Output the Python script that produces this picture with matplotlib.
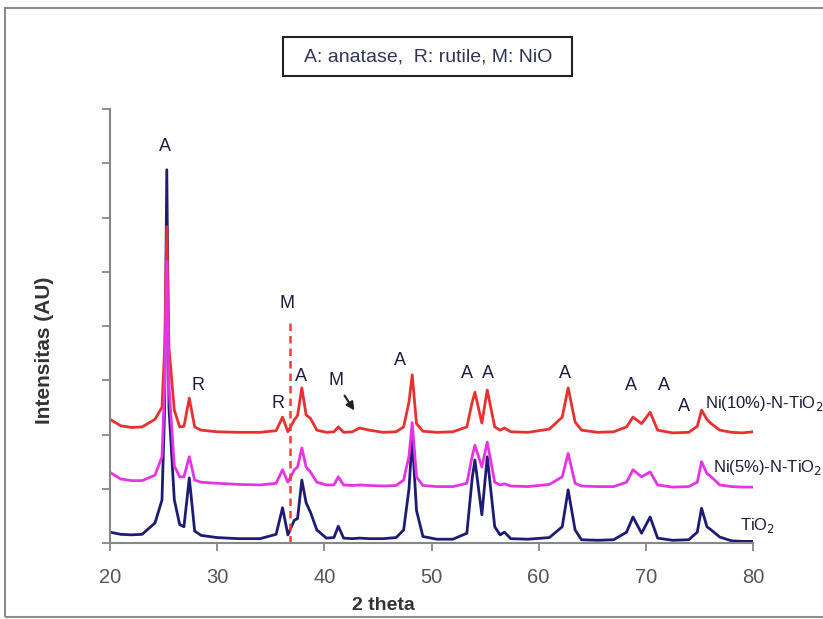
#!/usr/bin/env python3
"""XRD patterns of TiO2, Ni(5%)-N-TiO2 and Ni(10%)-N-TiO2 (stacked, arbitrary units)."""
import matplotlib
matplotlib.use("Agg")
import matplotlib.pyplot as plt
from matplotlib.patches import Rectangle

# ---- data (2 theta in degrees, intensity in AU, already offset) ----
two_theta = [20.0, 21.0, 22.0, 23.0, 24.2, 24.85, 25.1, 25.3, 25.5, 26.0,
             26.5, 26.9, 27.4, 27.9, 28.5, 30.0, 32.0, 34.0, 35.5, 36.1,
             36.6, 37.2, 37.5, 37.9, 38.3, 38.7, 39.3, 40.2, 40.9, 41.3,
             41.8, 42.6, 43.3, 44.2, 45.5, 46.7, 47.4, 47.9, 48.2, 48.6,
             49.2, 50.5, 52.0, 53.3, 53.8, 54.05, 54.7, 55.2, 55.9, 56.4,
             56.8, 57.4, 59.0, 61.0, 62.2, 62.75, 63.4, 64.0, 65.5, 67.0,
             68.2, 68.8, 69.6, 70.4, 71.1, 72.5, 74.0, 74.8, 75.2, 75.7,
             76.1, 76.9, 78.0, 79.0, 80.0]
tio2 = [0.20, 0.16, 0.15, 0.16, 0.37, 0.79, 2.50, 6.88, 2.50, 0.80,
        0.34, 0.30, 1.20, 0.22, 0.14, 0.10, 0.08, 0.08, 0.16, 0.65,
        0.15, 0.42, 0.45, 1.16, 0.74, 0.57, 0.24, 0.09, 0.10, 0.31,
        0.09, 0.08, 0.09, 0.08, 0.08, 0.10, 0.24, 1.00, 1.95, 0.60,
        0.12, 0.07, 0.07, 0.18, 1.20, 1.53, 0.52, 1.59, 0.30, 0.15,
        0.20, 0.08, 0.07, 0.10, 0.30, 0.98, 0.24, 0.06, 0.05, 0.06,
        0.20, 0.48, 0.18, 0.48, 0.09, 0.05, 0.06, 0.20, 0.64, 0.30,
        0.24, 0.11, 0.04, 0.03, 0.03]
ni5 = [1.30, 1.18, 1.15, 1.15, 1.25, 1.59, 2.90, 5.19, 2.90, 1.42,
       1.22, 1.22, 1.59, 1.16, 1.12, 1.10, 1.08, 1.07, 1.10, 1.35,
       1.12, 1.35, 1.40, 1.75, 1.40, 1.31, 1.12, 1.07, 1.07, 1.22,
       1.07, 1.06, 1.07, 1.06, 1.05, 1.06, 1.16, 1.60, 2.22, 1.22,
       1.06, 1.04, 1.04, 1.10, 1.60, 1.80, 1.40, 1.86, 1.12, 1.07,
       1.09, 1.05, 1.04, 1.08, 1.22, 1.65, 1.10, 1.05, 1.04, 1.04,
       1.12, 1.35, 1.22, 1.31, 1.07, 1.03, 1.04, 1.12, 1.50, 1.28,
       1.22, 1.07, 1.04, 1.03, 1.03]
ni10 = [2.28, 2.16, 2.13, 2.14, 2.28, 2.50, 3.60, 5.83, 3.60, 2.45,
        2.14, 2.15, 2.67, 2.14, 2.08, 2.05, 2.04, 2.04, 2.07, 2.32,
        2.05, 2.27, 2.35, 2.86, 2.36, 2.30, 2.08, 2.04, 2.05, 2.14,
        2.04, 2.05, 2.12, 2.08, 2.04, 2.05, 2.14, 2.60, 3.10, 2.20,
        2.06, 2.04, 2.05, 2.14, 2.60, 2.78, 2.21, 2.82, 2.14, 2.08,
        2.12, 2.05, 2.04, 2.10, 2.32, 2.86, 2.23, 2.08, 2.04, 2.05,
        2.14, 2.32, 2.20, 2.41, 2.08, 2.03, 2.04, 2.15, 2.45, 2.28,
        2.20, 2.08, 2.04, 2.03, 2.05]

series_names = ["TiO$_2$", "Ni(5%)-N-TiO$_2$", "Ni(10%)-N-TiO$_2$"]
series_colors = ["#1e1b74", "#e633e6", "#e8312f"]
name_x = [78.8, 76.3, 75.5]
name_y = [0.33, 1.40, 2.58]

# phase markers above peaks
peak_labels = ["A", "R", "R", "A", "M", "A", "A", "A", "A", "A", "A", "A"]
peak_label_x = [25.15, 28.2, 35.7, 37.8, 41.1, 47.05, 53.3, 55.3, 62.45, 68.6, 71.7, 73.6]
peak_label_y = [7.3, 2.9, 2.58, 3.06, 3.0, 3.37, 3.13, 3.13, 3.13, 2.91, 2.91, 2.51]

nio_line_x = 36.8      # dashed NiO reference position
nio_line_top = 4.05

LBL = "#1c1c3c"

fig = plt.figure(figsize=(8.23, 6.19), dpi=100)
ax = fig.add_axes([110 / 823, 1 - 543 / 619, 643 / 823, 434 / 619])

# outer chart border (Excel-style frame)
fig.patches.append(Rectangle((5 / 823, 1 - 617 / 619), 1.0, 609 / 619, transform=fig.transFigure,
                             fill=False, ec="#8c8c8c", lw=1.5))

# navy first, then red, magenta on top
for i in [0, 2, 1]:
    ys = [tio2, ni5, ni10][i]
    ax.plot(two_theta, ys, color=series_colors[i], lw=2.0, solid_joinstyle="round")

ax.plot([nio_line_x, nio_line_x], [0, nio_line_top], color="#ff3b3b", lw=1.8,
        dashes=(3, 2))
ax.text(nio_line_x - 0.3, 4.42, "M", ha="center", va="center", fontsize=13,
        family="Liberation Sans", color=LBL)

for lab, x, y in zip(peak_labels, peak_label_x, peak_label_y):
    ax.text(x, y, lab, ha="center", va="center", fontsize=13,
            family="Liberation Sans", color=LBL)

ax.annotate("", xy=(42.95, 2.40), xytext=(41.74, 2.76),
            arrowprops=dict(arrowstyle="-|>", color="#222222", lw=1.5, mutation_scale=12))

# series names sit at the right edge; 12 pt keeps them inside the figure
for name, x, y in zip(series_names, name_x, name_y):
    ax.text(x, y, name, ha="left", va="center", fontsize=12,
            family="Liberation Sans", color=LBL, clip_on=False)

ax.set_xlim(20, 80)
ax.set_ylim(0, 8)
ax.set_xticks(range(20, 81, 10))
ax.set_yticks(range(0, 9))
ax.set_yticklabels([])
for s in ["top", "right"]:
    ax.spines[s].set_visible(False)
for s in ["left", "bottom"]:
    ax.spines[s].set_color("#878787")
    ax.spines[s].set_linewidth(1.5)
ax.tick_params(axis="both", direction="out", length=6, width=1.3, color="#878787")
ax.tick_params(axis="x", labelsize=14.5, labelcolor="#555555", pad=12)
for t in ax.get_xticklabels():
    t.set_family("Liberation Sans")

fig.text(383 / 823, 1 - 605 / 619, "2 theta", ha="center", va="center", fontsize=14,
         fontweight="bold", family="Liberation Sans", color="#333333")
fig.text(45 / 823, 1 - 350 / 619, "Intensitas (AU)", ha="center", va="center", rotation=90,
         fontsize=15, fontweight="bold", family="Liberation Sans", color="#333333")

# phase key box
fig.patches.append(Rectangle((283 / 823, 1 - 76 / 619), 289 / 823, 39 / 619,
                             transform=fig.transFigure, fc="white", ec="#222222", lw=1.5))
fig.text(428 / 823, 1 - 57 / 619, "A: anatase,  R: rutile, M: NiO", ha="center", va="center",
         fontsize=14, family="Liberation Sans", color="#333355")

fig.savefig("out.png", dpi=100)
